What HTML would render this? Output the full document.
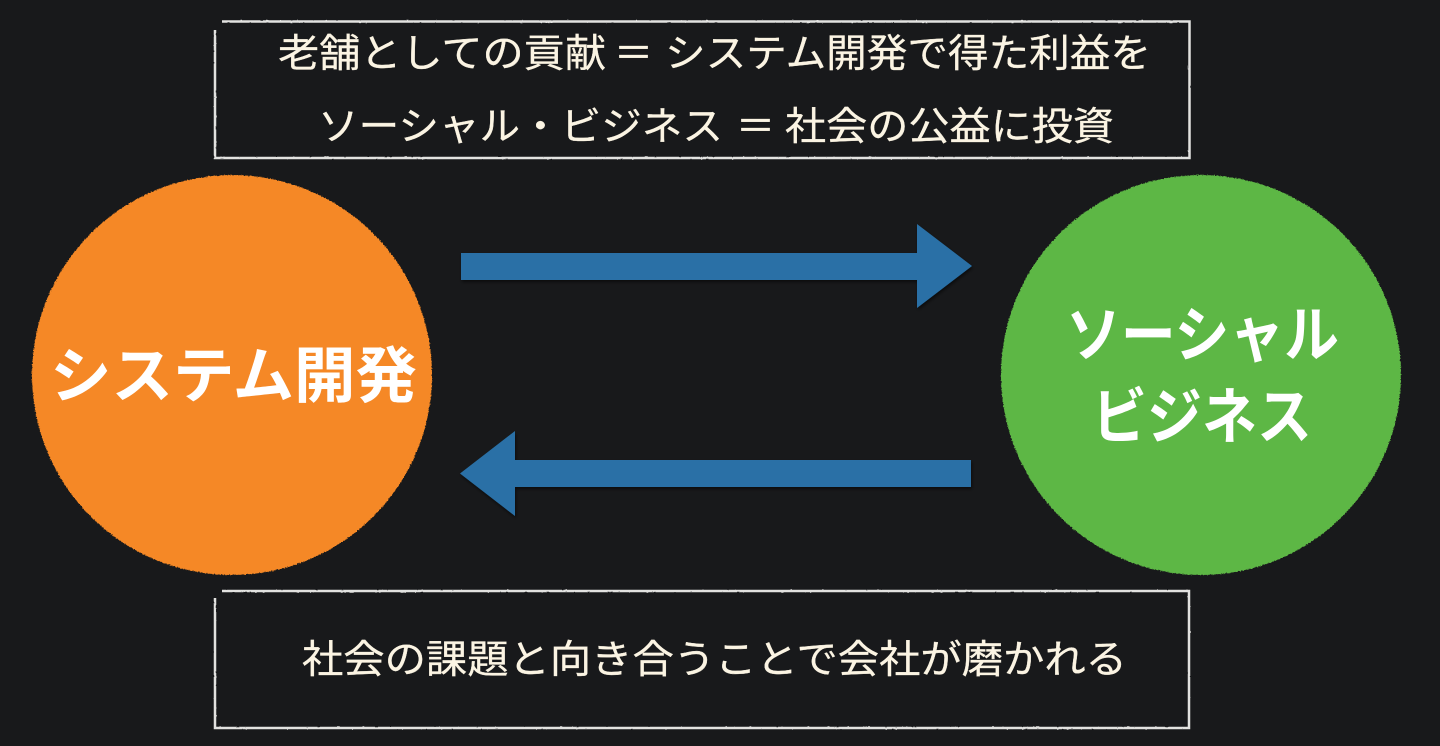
<!DOCTYPE html>
<html lang="ja">
<head>
<meta charset="utf-8">
<style>
html,body{margin:0;padding:0;background:#18191b;width:1440px;height:746px;overflow:hidden}
svg{display:block}
text{font-family:"Liberation Sans","Noto Sans CJK JP",sans-serif}
</style>
</head>
<body>
<svg width="1440" height="746" viewBox="0 0 1440 746" xmlns="http://www.w3.org/2000/svg">
<defs>
<filter id="rough" x="-5%" y="-5%" width="110%" height="110%">
<feTurbulence type="fractalNoise" baseFrequency="0.7" numOctaves="2" seed="4" result="n"/>
<feDisplacementMap in="SourceGraphic" in2="n" scale="2.4" xChannelSelector="R" yChannelSelector="G"/>
<feGaussianBlur stdDeviation="0.3"/>
</filter>
<filter id="chalk" x="-2%" y="-5%" width="104%" height="110%">
<feTurbulence type="fractalNoise" baseFrequency="0.2" numOctaves="2" seed="7" result="n"/>
<feDisplacementMap in="SourceGraphic" in2="n" scale="1.1" xChannelSelector="R" yChannelSelector="G"/>
<feGaussianBlur stdDeviation="0.35"/>
</filter>
<filter id="soft" x="-5%" y="-20%" width="110%" height="140%">
<feGaussianBlur stdDeviation="0.35"/>
</filter>
<filter id="shadow" x="-5%" y="-20%" width="110%" height="140%">
<feDropShadow dx="1" dy="2" stdDeviation="1.5" flood-color="#000" flood-opacity="0.55"/>
</filter>
</defs>
<rect width="1440" height="746" fill="#18191b"/>
<g fill="none" stroke="#e2e2e0" stroke-width="2.500" filter="url(#chalk)">
<path d="M222 21.500H1189.500V158H215V30"/>
<path d="M222 591H1189V728H215V598"/>
</g>
<circle cx="232" cy="375" r="200" fill="#f58825" filter="url(#rough)"/>
<circle cx="1201" cy="375" r="200" fill="#5db745" filter="url(#rough)"/>
<path d="M461 253H917V224L972 266L917 308V280H461Z" fill="#2970a6" filter="url(#shadow)"/>
<path d="M971 460H515V431L460 473.500L515 516V487H971Z" fill="#2970a6" filter="url(#shadow)"/>
<g fill="#fbf4e3" font-size="39" stroke="#fbf4e3" stroke-width="0.3" filter="url(#soft)">
<text x="278" y="67" textLength="328" lengthAdjust="spacingAndGlyphs">老舗としての貢献</text>
<text x="614" y="67">＝</text>
<text x="665" y="67" textLength="486" lengthAdjust="spacingAndGlyphs">システム開発で得た利益を</text>
<text x="318" y="140" textLength="405" lengthAdjust="spacingAndGlyphs">ソーシャル・ビジネス</text>
<text x="736" y="140">＝</text>
<text x="785" y="140" textLength="329" lengthAdjust="spacingAndGlyphs">社会の公益に投資</text>
<text x="302" y="673" textLength="825" lengthAdjust="spacingAndGlyphs">社会の課題と向き合うことで会社が磨かれる</text>
</g>
<g fill="#fff" font-size="61" font-weight="700" filter="url(#soft)">
<text x="50" y="397" textLength="367" lengthAdjust="spacingAndGlyphs">システム開発</text>
<text x="1066" y="356" textLength="273" lengthAdjust="spacingAndGlyphs">ソーシャル</text>
<text x="1092" y="438" textLength="220" lengthAdjust="spacingAndGlyphs">ビジネス</text>
</g>
</svg>
</body>
</html>
